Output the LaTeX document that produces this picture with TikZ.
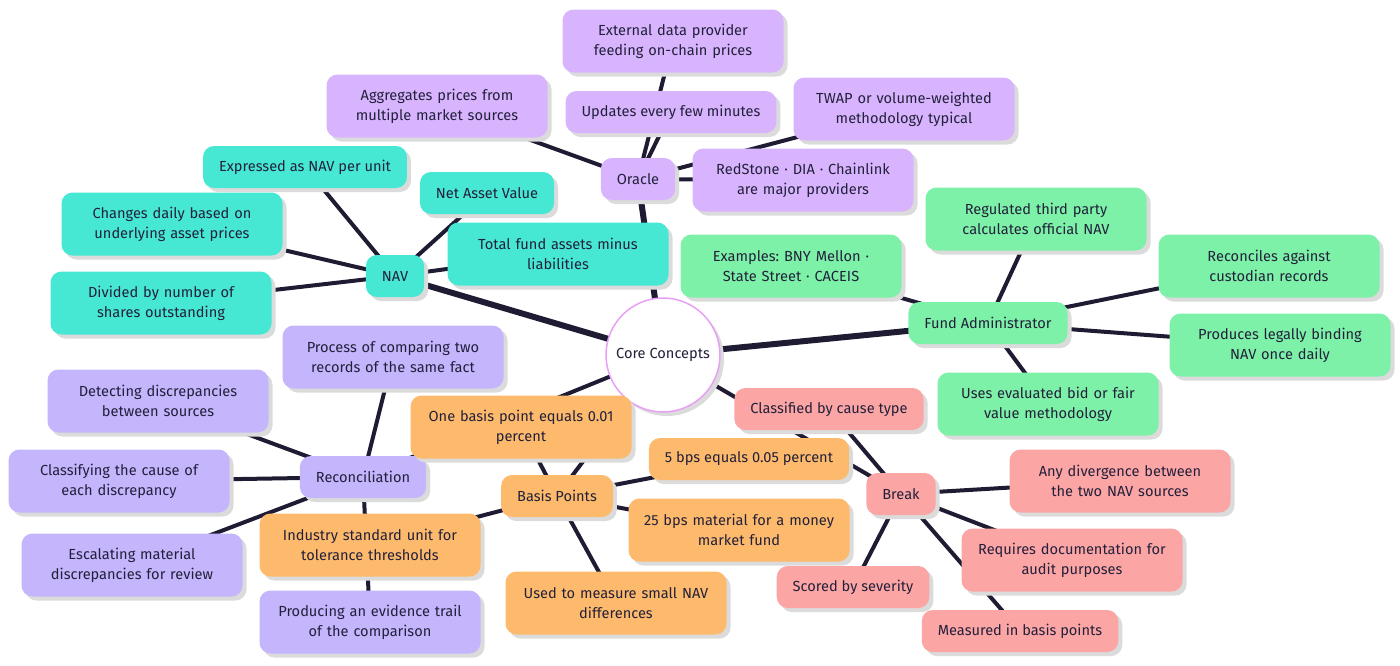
\documentclass[tikz,border=0pt]{standalone}
\usepackage{fontspec}
\setmainfont{Fira Sans}
\usetikzlibrary{shadows,backgrounds}
\frenchspacing

\definecolor{oraclefill}{HTML}{D8B4FE}
\definecolor{navfill}{HTML}{46E8D4}
\definecolor{adminfill}{HTML}{7DF1A8}
\definecolor{reconfill}{HTML}{C4B5FD}
\definecolor{bpsfill}{HTML}{FDBA6C}
\definecolor{breakfill}{HTML}{FCA5A5}
\definecolor{edgecol}{HTML}{1E1B33}
\definecolor{inkcol}{HTML}{22203A}
\definecolor{ringcol}{HTML}{E8A0F6}

\tikzset{
  box/.style={rounded corners=11pt, inner xsep=16pt, inner ysep=4pt,
    minimum height=42pt, align=center, text=inkcol,
    font=\fontsize{14.6}{20}\selectfont,
    drop shadow={shadow xshift=4pt, shadow yshift=-4pt, fill=black!14, opacity=1}},
  wide/.style={box, inner xsep=8pt, text width=205pt, minimum height=63pt},
  link/.style={edgecol, line width=4pt},
  trunk/.style={edgecol, line width=6pt}
}

\begin{document}
\begin{tikzpicture}[x=1pt, y=-1pt]
\useasboundingbox (0,0) rectangle (1400,665);

% centre
\node[circle, draw=ringcol, line width=1.5pt, fill=white, minimum size=114pt,
  text=inkcol, font=\fontsize{14.6}{20}\selectfont,
  drop shadow={shadow xshift=4pt, shadow yshift=-4pt, fill=black!14, opacity=1}]
  (core) at (663,355) {Core Concepts};

% oracle
\node[box, fill=oraclefill] (oracle) at (638,179) {Oracle};
\node[wide, fill=oraclefill] (external) at (673,41) {External data provider\\feeding on-chain prices};
\node[box, fill=oraclefill] (updates) at (671,112) {Updates every few minutes};
\node[wide, fill=oraclefill] (aggregates) at (437,106) {Aggregates prices from\\multiple market sources};
\node[wide, fill=oraclefill] (twap) at (904,109) {TWAP or volume-weighted\\methodology typical};
\node[wide, fill=oraclefill] (providers) at (803,180) {RedStone · DIA · Chainlink\\are major providers};

% nav
\node[box, fill=navfill] (nav) at (395,276) {NAV};
\node[box, fill=navfill] (expressed) at (305,167) {Expressed as NAV per unit};
\node[box, fill=navfill] (netvalue) at (487,193) {Net Asset Value};
\node[wide, fill=navfill] (changes) at (172,224) {Changes daily based on\\underlying asset prices};
\node[wide, fill=navfill] (divided) at (161,303) {Divided by number of\\shares outstanding};
\node[wide, fill=navfill] (total) at (558,254) {Total fund assets minus\\liabilities};

% fund administrator
\node[box, fill=adminfill] (admin) at (988,323) {Fund Administrator};
\node[wide, fill=adminfill] (regulated) at (1036,219) {Regulated third party\\calculates official NAV};
\node[wide, fill=adminfill] (examples) at (791,266) {Examples: BNY Mellon ·\\State Street · CACEIS};
\node[wide, fill=adminfill] (reconciles) at (1269,266) {Reconciles against\\custodian records};
\node[wide, fill=adminfill] (binding) at (1280,345) {Produces legally binding\\NAV once daily};
\node[wide, fill=adminfill] (evaluated) at (1048,404) {Uses evaluated bid or fair\\value methodology};

% reconciliation
\node[box, fill=reconfill] (recon) at (363,477) {Reconciliation};
\node[wide, fill=reconfill] (process) at (393,357) {Process of comparing two\\records of the same fact};
\node[wide, fill=reconfill] (detecting) at (158,401) {Detecting discrepancies\\between sources};
\node[wide, fill=reconfill] (classifying) at (119,481) {Classifying the cause of\\each discrepancy};
\node[wide, fill=reconfill] (escalating) at (132,565) {Escalating material\\discrepancies for review};
\node[wide, fill=reconfill] (trail) at (370,622) {Producing an evidence trail\\of the comparison};

% basis points
\node[box, fill=bpsfill] (bps) at (557,496) {Basis Points};
\node[wide, fill=bpsfill] (onebp) at (521,427) {One basis point equals 0.01\\percent};
\node[box, fill=bpsfill] (fivebps) at (749,459) {5 bps equals 0.05 percent};
\node[wide, fill=bpsfill] (material) at (739,530) {25 bps material for a money\\market fund};
\node[wide, fill=bpsfill] (industry) at (370,545) {Industry standard unit for\\tolerance thresholds};
\node[wide, fill=bpsfill] (small) at (616,603) {Used to measure small NAV\\differences};

% break
\node[box, fill=breakfill] (break) at (901,494) {Break};
\node[box, fill=breakfill] (cause) at (829,409) {Classified by cause type};
\node[wide, fill=breakfill] (divergence) at (1120,481) {Any divergence between\\the two NAV sources};
\node[wide, fill=breakfill] (audit) at (1072,560) {Requires documentation for\\audit purposes};
\node[box, fill=breakfill] (severity) at (853,587) {Scored by severity};
\node[box, fill=breakfill] (measured) at (1020,631) {Measured in basis points};

\begin{scope}[on background layer]
  \draw[trunk] (core.center) -- (oracle.center);
  \draw[trunk] (core.center) -- (nav.center);
  \draw[trunk] (core.center) -- (admin.center);
  \draw[link] (core.center) -- (recon.center);
  \draw[link] (core.center) -- (bps.center);
  \draw[link] (core.center) -- (break.center);
  \foreach \leaf in {external,updates,aggregates,twap,providers}
    \draw[link] (oracle.center) -- (\leaf.center);
  \foreach \leaf in {expressed,netvalue,changes,divided,total}
    \draw[link] (nav.center) -- (\leaf.center);
  \foreach \leaf in {regulated,examples,reconciles,binding,evaluated}
    \draw[link] (admin.center) -- (\leaf.center);
  \foreach \leaf in {process,detecting,classifying,escalating,trail}
    \draw[link] (recon.center) -- (\leaf.center);
  \foreach \leaf in {onebp,fivebps,material,industry,small}
    \draw[link] (bps.center) -- (\leaf.center);
  \foreach \leaf in {cause,divergence,audit,severity,measured}
    \draw[link] (break.center) -- (\leaf.center);
\end{scope}
\end{tikzpicture}
\end{document}
